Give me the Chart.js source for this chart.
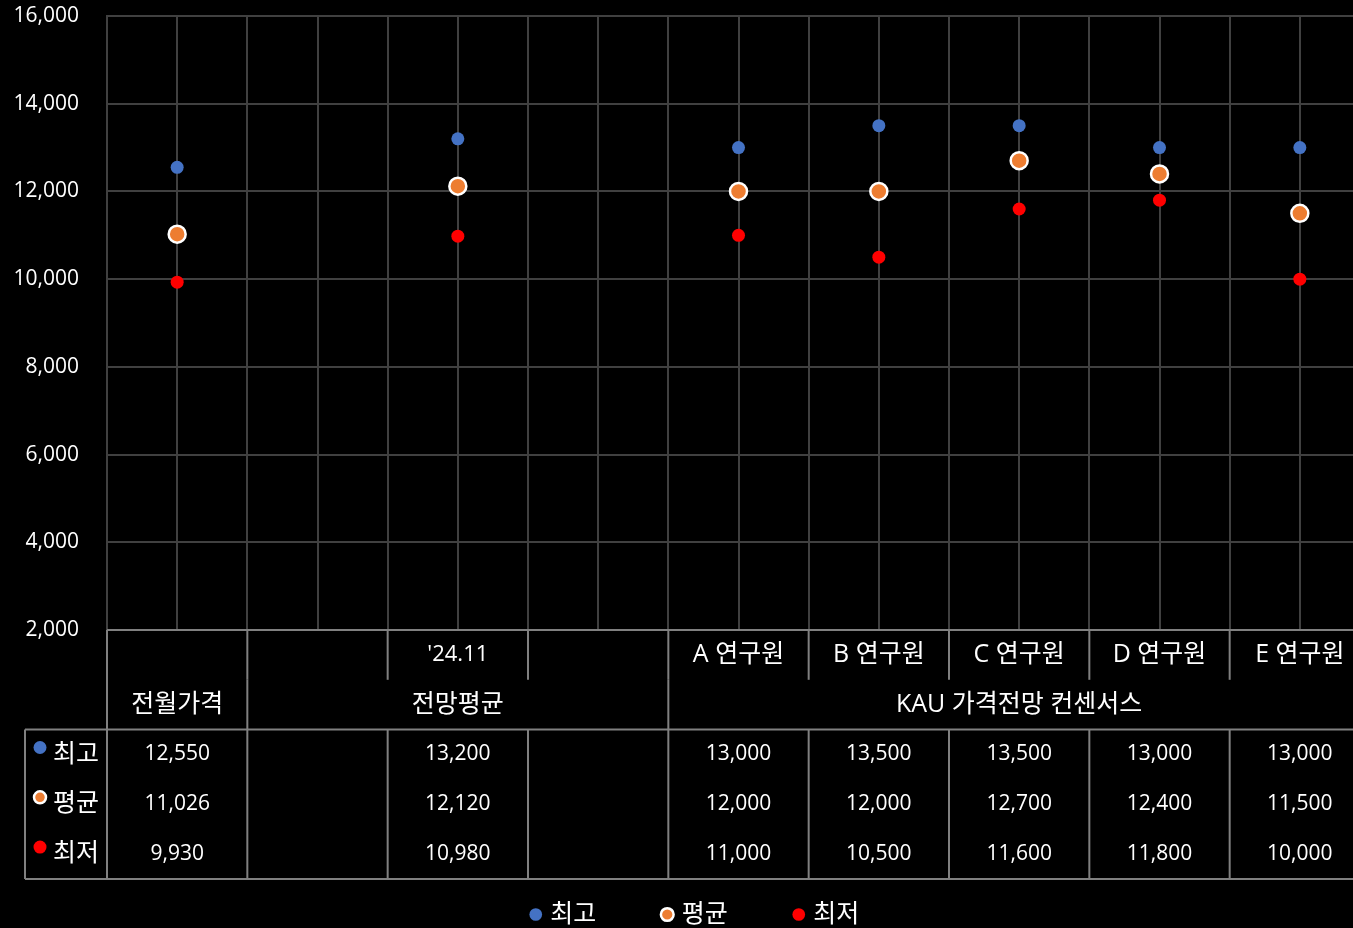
<!DOCTYPE html>
<html>
<head>
<meta charset="utf-8">
<script src="https://cdn.jsdelivr.net/npm/chart.js@4"></script>
<style>
  html, body { margin: 0; padding: 0; background: #000; overflow: hidden; }
  canvas { display: block; }
</style>
</head>
<body>
<canvas id="myChart" width="1353" height="928"></canvas>
<script>
var categories = ['', '', "'24.11", '', 'A 연구원', 'B 연구원', 'C 연구원', 'D 연구원', 'E 연구원'];
var groupLabels = ['전월가격', '전망평균', 'KAU 가격전망 컨센서스'];
var groupSpans = [1, 3, 5];
var seriesNames = ['최고', '평균', '최저'];
var highVals = [12550, null, 13200, null, 13000, 13500, 13500, 13000, 13000];
var avgVals = [11026, null, 12120, null, 12000, 12000, 12700, 12400, 11500];
var lowVals = [9930, null, 10980, null, 11000, 10500, 11600, 11800, 10000];
var yTicks = [2000, 4000, 6000, 8000, 10000, 12000, 14000, 16000];

var FONT = "'Open Sans', 'Noto Sans CJK KR', sans-serif";
var gridColor = '#404040';
var tableColor = '#808080';
var colorHexs = ['#4472C4', '#ED7D31', '#FF0000'];
var cropRight = 17; // the original plot runs past the right edge of the picture

// hangul renders narrow in Noto CJK, so bump the size for korean labels
function labelFont(txt) {
  return (/[가-힣]/.test(txt) ? '25px ' : '22px ') + FONT;
}

// grid lines at category centers + the data table under the plot
var tablePlugin = {
  id: 'dataTable',
  afterLayout: function (chart) {
    var x = chart.scales.x;
    x.right += cropRight;
    x.width += cropRight;
    x.configure();
    chart.chartArea.right += cropRight;
    chart.chartArea.width += cropRight;
    // excel puts the legend a bit right of centre
    chart.legend.left += 20;
    chart.legend.right += 20;
  },
  beforeDatasetsDraw: function (chart) {
    var ctx = chart.ctx, x = chart.scales.x, a = chart.chartArea;
    ctx.save();
    ctx.strokeStyle = gridColor;
    ctx.lineWidth = 2;
    for (var i = 0; i < categories.length; i++) {
      var px = Math.round(x.getPixelForValue(i));
      ctx.beginPath();
      ctx.moveTo(px, a.top);
      ctx.lineTo(px, a.bottom);
      ctx.stroke();
    }
    ctx.restore();
  },
  afterDraw: function (chart) {
    var ctx = chart.ctx, x = chart.scales.x, a = chart.chartArea;
    var n = categories.length;
    var half = (x.getPixelForValue(1) - x.getPixelForValue(0)) / 2;
    var edges = [];
    for (var i = 0; i < n; i++) edges.push(x.getPixelForValue(i) - half);
    edges.push(x.getPixelForValue(n - 1) + half);
    var top = a.bottom, rh = 49.8, keyLeft = a.left - 82;
    var rows = [highVals, avgVals, lowVals];

    ctx.save();
    ctx.strokeStyle = tableColor;
    ctx.lineWidth = 2;
    function line(x1, y1, x2, y2) {
      ctx.beginPath(); ctx.moveTo(x1, y1); ctx.lineTo(x2, y2); ctx.stroke();
    }
    line(a.left, top, a.right, top);
    line(keyLeft, top + 2 * rh, a.right, top + 2 * rh);
    line(keyLeft, top + 5 * rh, a.right, top + 5 * rh);
    line(a.left, top, a.left, top + 5 * rh);
    line(keyLeft, top + 2 * rh, keyLeft, top + 5 * rh);
    for (var e = 1; e < n; e++) {
      line(edges[e], top, edges[e], top + rh);
      line(edges[e], top + 2 * rh, edges[e], top + 5 * rh);
    }
    var acc = 0;
    for (var g = 0; g < groupSpans.length - 1; g++) {
      acc += groupSpans[g];
      line(edges[acc], top + rh, edges[acc], top + 2 * rh);
    }

    ctx.fillStyle = '#FFFFFF';
    ctx.textAlign = 'center';
    ctx.textBaseline = 'middle';
    for (var c = 0; c < n; c++) {
      if (categories[c]) {
        ctx.font = labelFont(categories[c]);
        ctx.fillText(categories[c], x.getPixelForValue(c), top + rh / 2);
      }
    }
    var start = 0;
    for (var g2 = 0; g2 < groupSpans.length; g2++) {
      var cx = (edges[start] + edges[start + groupSpans[g2]]) / 2;
      ctx.font = labelFont(groupLabels[g2]);
      ctx.fillText(groupLabels[g2], cx, top + rh * 1.5);
      start += groupSpans[g2];
    }
    ctx.font = '21px ' + FONT;
    for (var r = 0; r < rows.length; r++) {
      var ry = top + rh * (2.5 + r);
      for (var k = 0; k < n; k++) {
        if (rows[r][k] !== null) {
          ctx.fillText(rows[r][k].toLocaleString('en-US'), x.getPixelForValue(k), ry);
        }
      }
    }
    // legend keys inside the table
    ctx.textAlign = 'left';
    ctx.font = '25px ' + FONT;
    for (var s = 0; s < seriesNames.length; s++) {
      var sy = top + rh * (2.5 + s);
      ctx.beginPath();
      ctx.arc(keyLeft + 15, sy - 7, s === 1 ? 6 : 6.5, 0, Math.PI * 2);
      ctx.fillStyle = colorHexs[s];
      ctx.fill();
      if (s === 1) { ctx.strokeStyle = '#FFFFFF'; ctx.lineWidth = 2.5; ctx.stroke(); }
      ctx.fillStyle = '#FFFFFF';
      ctx.fillText(seriesNames[s], keyLeft + 28, sy);
    }
    ctx.restore();
  }
};

var ctx = document.getElementById('myChart').getContext('2d');
var myChart = new Chart(ctx, {
  type: 'line',
  data: {
    labels: categories,
    datasets: [{
      label: seriesNames[0],
      data: highVals,
      showLine: false,
      backgroundColor: colorHexs[0],
      borderColor: colorHexs[0],
      borderWidth: 0,
      pointRadius: 6.5,
      pointBorderWidth: 0
    }, {
      label: seriesNames[1],
      data: avgVals,
      showLine: false,
      backgroundColor: colorHexs[1],
      borderColor: '#FFFFFF',
      borderWidth: 2.5,
      pointRadius: 8.5,
      pointBorderWidth: 2.5
    }, {
      label: seriesNames[2],
      data: lowVals,
      showLine: false,
      backgroundColor: colorHexs[2],
      borderColor: colorHexs[2],
      borderWidth: 0,
      pointRadius: 6.5,
      pointBorderWidth: 0
    }]
  },
  options: {
    responsive: false,
    animation: false,
    layout: { autoPadding: false, padding: { top: 16, left: 0, right: 0, bottom: -9 } },
    plugins: {
      tooltip: { enabled: false },
      legend: {
        position: 'bottom',
        labels: {
          color: '#FFFFFF',
          font: { family: FONT, size: 25 },
          usePointStyle: true,
          pointStyle: 'circle',
          boxWidth: 4,
          boxHeight: 9,
          padding: 69
        }
      }
    },
    scales: {
      x: {
        offset: true,
        grid: { color: gridColor, lineWidth: 2, offset: true, drawTicks: false },
        border: { color: gridColor, width: 2 },
        ticks: { display: false },
        afterFit: function (scale) { scale.height = 203; }
      },
      y: {
        min: yTicks[0],
        max: yTicks[yTicks.length - 1],
        afterBuildTicks: function (scale) {
          scale.ticks = yTicks.map(function (v) { return { value: v }; });
        },
        grid: { color: gridColor, lineWidth: 2, drawTicks: true, tickLength: 28, tickColor: 'rgba(0,0,0,0)' },
        border: { color: gridColor, width: 2 },
        ticks: {
          color: '#FFFFFF',
          font: { family: FONT, size: 21 },
          padding: 0,
          callback: function (v) { return v.toLocaleString('en-US'); }
        },
        afterFit: function (scale) { scale.width = 107; }
      }
    }
  },
  plugins: [tablePlugin]
});
</script>
</body>
</html>
